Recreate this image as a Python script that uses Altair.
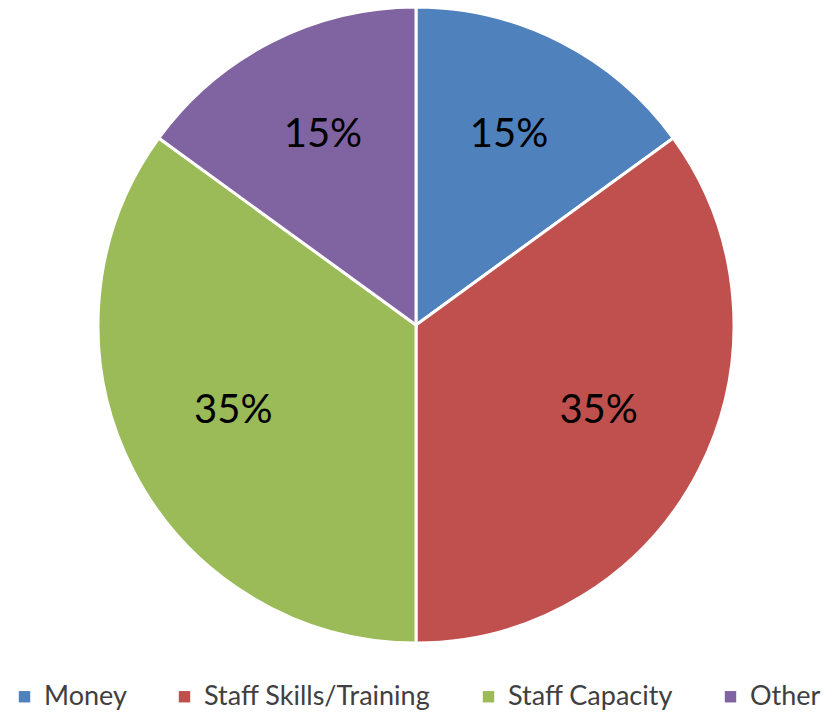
import altair as alt
import pandas as pd

categories = ["Money", "Staff Skills/Training", "Staff Capacity", "Other"]
values = [15, 35, 35, 15]
labels = ["15%", "35%", "35%", "15%"]
colors = ["#4F81BD", "#C0504D", "#9BBB59", "#8064A2"]

df = pd.DataFrame({"category": categories, "value": values, "label": labels,
                   "order": list(range(len(categories)))})

cx, cy = 416, 325

base = alt.Chart(df).encode(
    theta=alt.Theta("value:Q", stack=True),
    order=alt.Order("order:Q"),
    x=alt.value(cx),
    y=alt.value(cy),
)

arcs = base.mark_arc(outerRadius=318, stroke="white", strokeWidth=3).encode(
    color=alt.Color("category:N", sort=categories,
                    scale=alt.Scale(domain=categories, range=colors),
                    legend=alt.Legend(orient="none", legendX=11, legendY=683,
                                      padding=0,
                                      direction="horizontal", title=None,
                                      symbolType="square", symbolSize=130,
                                      symbolStrokeWidth=0,
                                      labelFontSize=27, labelFont="Lato",
                                      labelColor="#404040", columnPadding=44,
                                      symbolOffset=0, labelOffset=6,
                                      labelLimit=400))
)

text = base.mark_text(radius=205, fontSize=40, font="Lato", color="black", dy=-7).encode(
    text="label:N"
)

chart = (arcs + text).properties(
    width=833, height=714,
    autosize=alt.AutoSizeParams(type="none"),
    padding=0,
).configure_view(stroke=None)

chart.save("out.html", embed_options={"renderer": "svg", "actions": False})
